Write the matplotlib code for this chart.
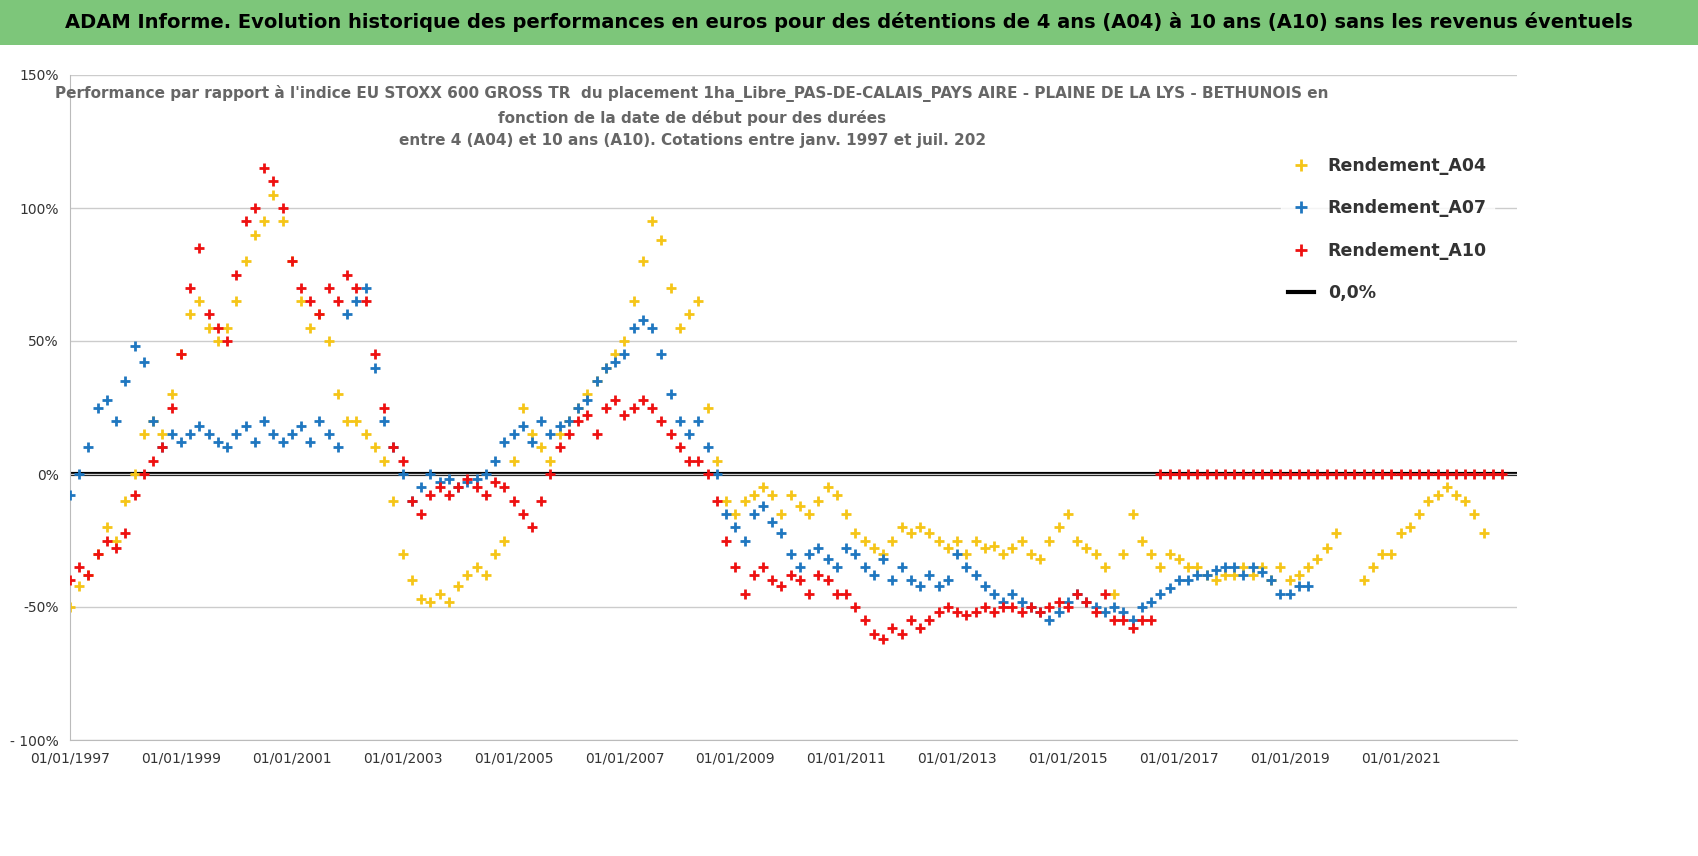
import numpy as np
import matplotlib.pyplot as plt
from matplotlib.ticker import FuncFormatter

nan = np.nan
# bimonthly readings, starting jan 1997
a04 = [-50, -42, -38, -30, -20, -25,  -10, 0, 15, 20, 15, 30,  45, 60, 65, 55, 50, 55,
       65, 80, 90, 95, 105, 95,  80, 65, 55, 60, 50, 30,  20, 20, 15, 10, 5, -10,
       -30, -40, -47, -48, -45, -48,  -42, -38, -35, -38, -30, -25,  5, 25, 15, 10, 5, 15,
       20, 25, 30, 35, 40, 45,  50, 65, 80, 95, 88, 70,  55, 60, 65, 25, 5, -10,
       -15, -10, -8, -5, -8, -15,  -8, -12, -15, -10, -5, -8,  -15, -22, -25, -28, -30, -25,
       -20, -22, -20, -22, -25, -28,  -25, -30, -25, -28, -27, -30,  -28, -25, -30, -32, -25, -20,
       -15, -25, -28, -30, -35, -45,  -30, -15, -25, -30, -35, -30,  -32, -35, -35, -38, -40, -38,
       -38, -35, -38, -35, -40, -35,  -40, -38, -35, -32, -28, -22,  nan, nan, -40, -35, -30, -30,
       -22, -20, -15, -10, -8, -5,  -8, -10, -15, -22]
a07 = [-8, 0, 10, 25, 28, 20,  35, 48, 42, 20, 10, 15,  12, 15, 18, 15, 12, 10,
       15, 18, 12, 20, 15, 12,  15, 18, 12, 20, 15, 10,  60, 65, 70, 40, 20, 10,
       0, -10, -5, 0, -3, -2,  -5, -3, -2, 0, 5, 12,  15, 18, 12, 20, 15, 18,
       20, 25, 28, 35, 40, 42,  45, 55, 58, 55, 45, 30,  20, 15, 20, 10, 0, -15,
       -20, -25, -15, -12, -18, -22,  -30, -35, -30, -28, -32, -35,  -28, -30, -35, -38, -32, -40,
       -35, -40, -42, -38, -42, -40,  -30, -35, -38, -42, -45, -48,  -45, -48, -50, -52, -55, -52,
       -48, -45, -48, -50, -52, -50,  -52, -55, -50, -48, -45, -43,  -40, -40, -38, -38, -36, -35,
       -35, -38, -35, -37, -40, -45,  -45, -42, -42]
a10 = [-40, -35, -38, -30, -25, -28,  -22, -8, 0, 5, 10, 25,  45, 70, 85, 60, 55, 50,
       75, 95, 100, 115, 110, 100,  80, 70, 65, 60, 70, 65,  75, 70, 65, 45, 25, 10,
       5, -10, -15, -8, -5, -8,  -5, -2, -5, -8, -3, -5,  -10, -15, -20, -10, 0, 10,
       15, 20, 22, 15, 25, 28,  22, 25, 28, 25, 20, 15,  10, 5, 5, 0, -10, -25,
       -35, -45, -38, -35, -40, -42,  -38, -40, -45, -38, -40, -45,  -45, -50, -55, -60, -62, -58,
       -60, -55, -58, -55, -52, -50,  -52, -53, -52, -50, -52, -50,  -50, -52, -50, -52, -50, -48,
       -50, -45, -48, -52, -45, -55,  -55, -58, -55, -55] + [0] * 38

def dates(vals, step=1/6):
    return 1997 + np.arange(len(vals)) * step

fig = plt.figure(figsize=(16.98, 8.56), dpi=100)
fig.patch.set_facecolor('white')
fig.patches.append(plt.Rectangle((0, 0.948), 1, 0.052, transform=fig.transFigure, fc='#7dc67a', ec='none', zorder=-1))
fig.text(0.5, 0.974, "ADAM Informe. Evolution historique des performances en euros pour des détentions de 4 ans (A04) à 10 ans (A10) sans les revenus éventuels",
         ha='center', va='center', fontsize=14, fontweight='bold')

ax = fig.add_axes([70/1698, 1 - 740/856, 1447/1698, 665/856])
ax.axhline(0, color='black', lw=3, zorder=1)
kw = dict(ms=7, mew=2)
ax.plot(dates(a04), a04, '+', color='#f5c518', label='Rendement_A04', zorder=2, **kw)
ax.plot(dates(a07), a07, '+', color='#1f77c0', label='Rendement_A07', zorder=3, **kw)
ax.plot(dates(a10), a10, '+', color='#ee1111', label='Rendement_A10', zorder=4, **kw)
ax.plot([], [], color='black', lw=3, label='0,0%')

ax.set_xlim(1997, 2023.1)
ax.set_ylim(-100, 150)
ax.set_yticks([-100, -50, 0, 50, 100, 150])
ax.yaxis.set_major_formatter(FuncFormatter(lambda v, p: '- 100%' if v == -100 else f'{v:.0f}%'))
ax.set_xticks(range(1997, 2023, 2))
ax.set_xticklabels([f'01/01/{y}' for y in range(1997, 2023, 2)])
ax.tick_params(labelsize=10, colors='#333333', length=0, pad=8)
ax.grid(axis='y', color='#cccccc', lw=1)
for s in ['top', 'right']:
    ax.spines[s].set_visible(False)
ax.spines['left'].set_color('#bbbbbb')
ax.spines['bottom'].set_color('#bbbbbb')
ax.text(0.43, 0.985, "Performance par rapport à l'indice EU STOXX 600 GROSS TR  du placement 1ha_Libre_PAS-DE-CALAIS_PAYS AIRE - PLAINE DE LA LYS - BETHUNOIS en\nfonction de la date de début pour des durées\nentre 4 (A04) et 10 ans (A10). Cotations entre janv. 1997 et juil. 202",
        transform=ax.transAxes, ha='center', va='top', fontsize=11, fontweight='bold', color='#666666',
        linespacing=1.6)
leg = ax.legend(loc='upper right', bbox_to_anchor=(0.99, 0.90), frameon=True, fancybox=False,
                edgecolor='white', fontsize=12.5, markerscale=1.2, labelspacing=1.4, handlelength=1.5)
for t in leg.get_texts():
    t.set_fontweight('bold')
    t.set_color('#333333')

fig.savefig('out.png', dpi=100)
